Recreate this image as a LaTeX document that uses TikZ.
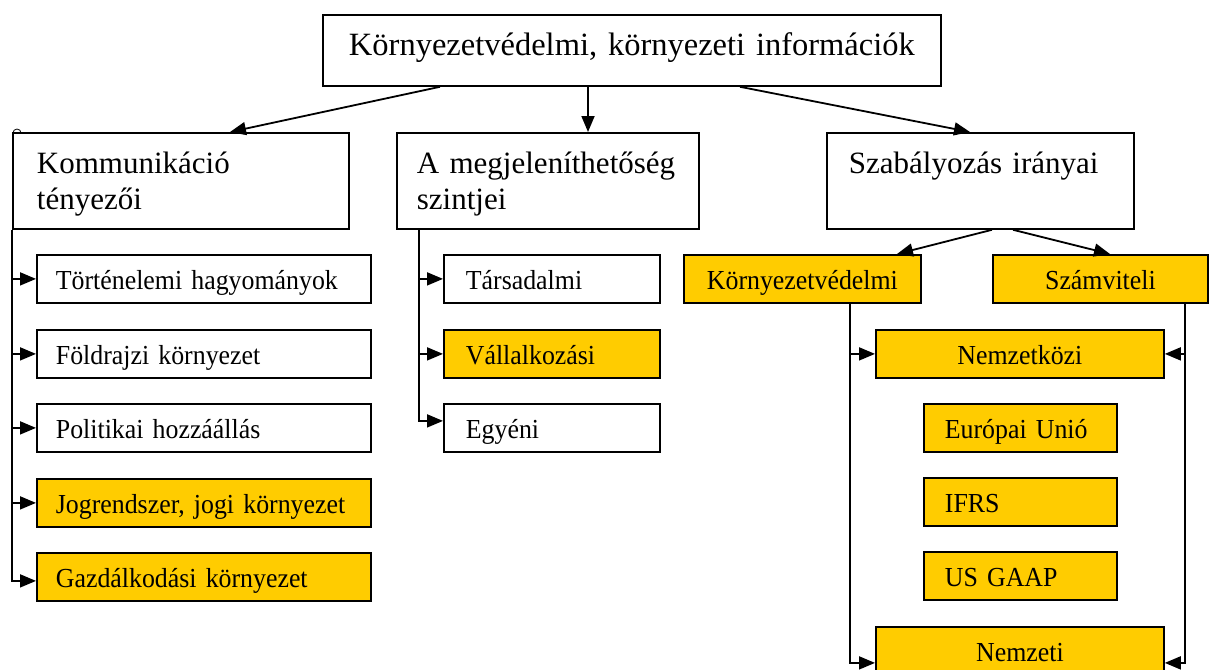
\documentclass[tikz,border=0pt]{standalone}
\usepackage{fontspec}
\setmainfont{Liberation Serif}
\newfontfamily\narrowserif{Liberation Serif}[FakeStretch=0.94]
\usetikzlibrary{arrows.meta}
\definecolor{gold}{HTML}{FFCC00}
\tikzset{
  box/.style={draw, line width=1.8pt, fill=white, inner ysep=0pt, anchor=north west},
  big/.style={box, font=\fontsize{31}{36}\selectfont, align=left, text height=41pt, text depth=55pt},
  sm/.style={box, font=\narrowserif\fontsize{27.5}{30}\selectfont, text height=35pt, text depth=13pt},
  lft/.style={align=left},
  ctr/.style={align=center, inner xsep=0pt},
  ylw/.style={fill=gold},
  conn/.style={line width=1.8pt, -{Triangle[length=16pt,width=13pt]}},
}
\begin{document}
\begin{tikzpicture}[x=1pt,y=-1pt]
\useasboundingbox (0,0) rectangle (1209,669);
% title
\node[box, ctr, font=\fontsize{32.5}{35}\selectfont, text width=618pt, text height=41pt, text depth=30pt] (title) at (322,14) {Környezetvédelmi, környezeti információk};
% small mark
\draw[line width=0.8pt] (17,133) circle (4pt);
% level 1
\node[big, inner xsep=24pt, text width=288pt] (kom) at (12,132) {Kommunikáció\\tényezői};
\node[big, inner xsep=20pt, text width=262pt] (meg) at (396,132) {\mbox{A megjeleníthetőség}\\szintjei};
\node[big, inner xsep=22pt, text width=263pt] (szab) at (826,132) {Szabályozás irányai};
% left column
\node[sm, lft, inner xsep=19pt, text width=296pt] (k1) at (36,254) {Történelemi hagyományok};
\node[sm, lft, inner xsep=19pt, text width=296pt] (k2) at (36,329) {Földrajzi környezet};
\node[sm, lft, inner xsep=19pt, text width=296pt] (k3) at (36,403) {Politikai hozzáállás};
\node[sm, lft, ylw, inner xsep=19pt, text width=296pt] (k4) at (36,478) {Jogrendszer, jogi környezet};
\node[sm, lft, ylw, inner xsep=19pt, text width=296pt] (k5) at (36,552) {Gazdálkodási környezet};
% middle column
\node[sm, lft, inner xsep=22pt, text width=172pt] (m1) at (443,254) {Társadalmi};
\node[sm, lft, ylw, inner xsep=22pt, text width=172pt] (m2) at (443,329) {Vállalkozási};
\node[sm, lft, inner xsep=22pt, text width=172pt] (m3) at (443,403) {Egyéni};
% right
\node[sm, ctr, ylw, text width=237pt] (kv) at (683,254) {Környezetvédelmi};
\node[sm, ctr, ylw, text width=215pt] (szv) at (992,254) {Számviteli};
\node[sm, ctr, ylw, text width=288pt] (nk) at (875,329) {Nemzetközi};
\node[sm, lft, ylw, inner xsep=21pt, text width=151pt] (eu) at (923,403) {Európai Unió};
\node[sm, lft, ylw, inner xsep=21pt, text width=151pt] (ifrs) at (923,477) {IFRS};
\node[sm, lft, ylw, inner xsep=21pt, text width=151pt] (gaap) at (923,551) {US GAAP};
\node[sm, ctr, ylw, text width=288pt] (nz) at (875,626) {Nemzeti};
% connectors from title
\draw[conn] ([xshift=118pt]title.south west) -- ([xshift=218pt]kom.north west);
\draw[conn] ([xshift=266pt]title.south west) -- ([xshift=192pt]meg.north west);
\draw[conn] ([xshift=418pt]title.south west) -- ([xshift=144pt]szab.north west);
% left column
\draw[conn] (kom.south west) |- (k1.west);
\draw[conn] (kom.south west) |- (k2.west);
\draw[conn] (kom.south west) |- (k3.west);
\draw[conn] (kom.south west) |- (k4.west);
\draw[conn] (kom.south west) |- ([yshift=-4pt]k5.west);
% middle column
\draw[conn] ([xshift=23pt]meg.south west) |- (m1.west);
\draw[conn] ([xshift=23pt]meg.south west) |- (m2.west);
\draw[conn] ([xshift=23pt]meg.south west) |- ([yshift=7pt]m3.west);
% right
\draw[conn] ([xshift=166pt]szab.south west) -- ([xshift=214pt]kv.north west);
\draw[conn] ([xshift=187pt]szab.south west) -- ([xshift=118pt]szv.north west);
\draw[conn] ([xshift=167pt]kv.south west) |- (nk.west);
\draw[conn] ([xshift=167pt]kv.south west) |- ([yshift=-12pt]nz.west);
\draw[conn] ([xshift=193pt]szv.south west) |- (nk.east);
\draw[conn] ([xshift=193pt]szv.south west) |- ([yshift=-12pt]nz.east);
\end{tikzpicture}
\end{document}
